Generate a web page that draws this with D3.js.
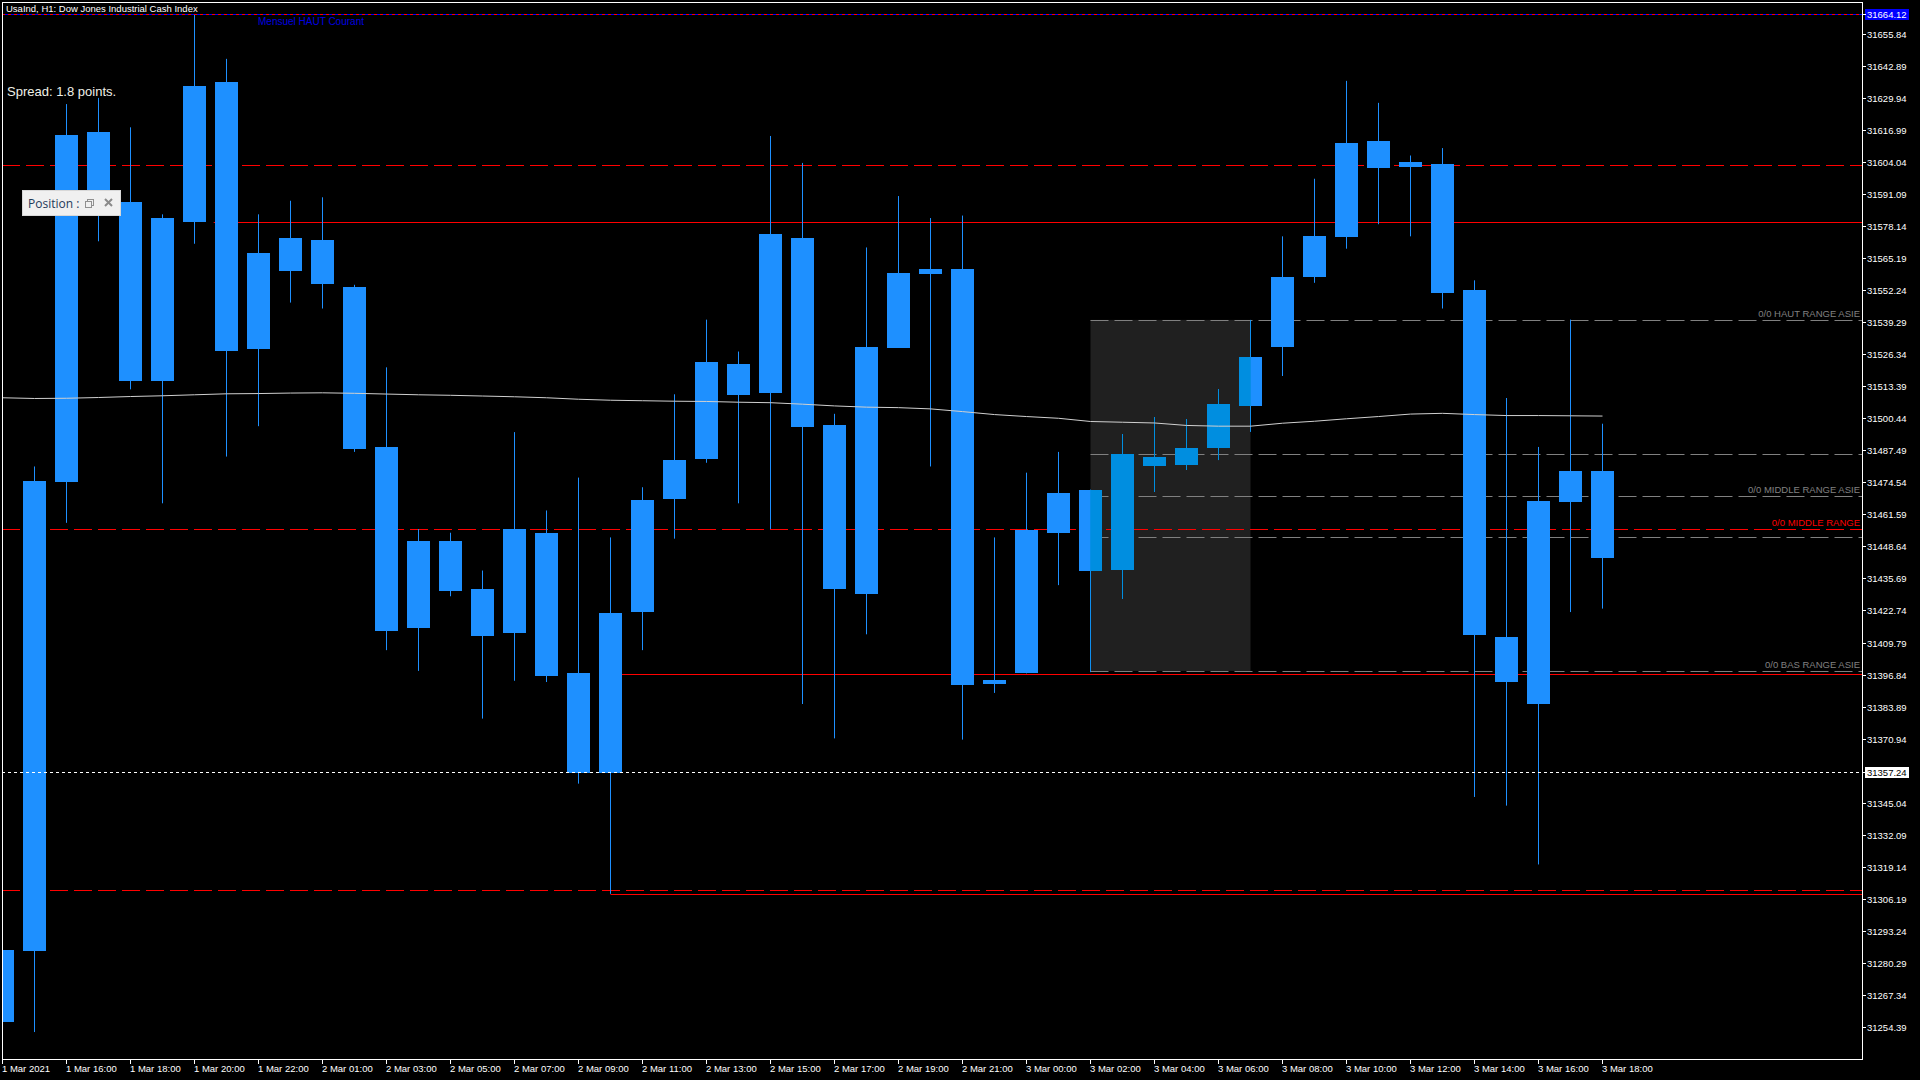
<!DOCTYPE html>
<html><head><meta charset="utf-8">
<script src="https://cdn.jsdelivr.net/npm/d3@7"></script>
<style>html,body{margin:0;padding:0;background:#000;overflow:hidden}</style>
</head><body>
<svg id="c" width="1920" height="1080"></svg>
<script>
// ---------- DATA ----------
const xLabels = ["1 Mar 2021","1 Mar 16:00","1 Mar 18:00","1 Mar 20:00","1 Mar 22:00","2 Mar 01:00","2 Mar 03:00","2 Mar 05:00","2 Mar 07:00","2 Mar 09:00","2 Mar 11:00","2 Mar 13:00","2 Mar 15:00","2 Mar 17:00","2 Mar 19:00","2 Mar 21:00","3 Mar 00:00","3 Mar 02:00","3 Mar 04:00","3 Mar 06:00","3 Mar 08:00","3 Mar 10:00","3 Mar 12:00","3 Mar 14:00","3 Mar 16:00","3 Mar 18:00"];
const xLabelBars = [0,2,4,6,8,10,12,14,16,18,20,22,24,26,28,30,32,34,36,38,40,42,44,46,48,50];
const yTickLabels = ["31655.84","31642.89","31629.94","31616.99","31604.04","31591.09","31578.14","31565.19","31552.24","31539.29","31526.34","31513.39","31500.44","31487.49","31474.54","31461.59","31448.64","31435.69","31422.74","31409.79","31396.84","31383.89","31370.94","31345.04","31332.09","31319.14","31306.19","31293.24","31280.29","31267.34","31254.39"];

const opens  = [31256.1,31284.9,31475.0,31616.2,31588.0,31515.7,31580.0,31636.5,31528.5,31560.2,31572.6,31553.8,31488.9,31415.6,31450.8,31431.5,31413.6,31454.2,31397.3,31356.7,31422.1,31467.6,31484.0,31522.6,31510.7,31573.6,31497.8,31429.5,31529.0,31558.7,31560.7,31393.3,31397.3,31453.8,31471.6,31438.9,31485.0,31481.6,31488.5,31505.5,31529.5,31557.7,31573.6,31612.7,31602.3,31603.3,31552.3,31412.1,31384.9,31466.6,31479.0];
const highs  = [31285.3,31481.0,31627.6,31630.1,31618.2,31583.0,31663.8,31645.9,31583.0,31588.5,31589.9,31554.5,31521.1,31455.7,31454.2,31438.9,31494.9,31463.2,31476.5,31452.3,31472.6,31510.2,31540.4,31527.5,31614.7,31603.8,31502.3,31569.6,31590.4,31581.5,31582.5,31452.3,31478.5,31486.9,31471.6,31494.1,31501.0,31500.2,31512.3,31540.3,31574.1,31597.4,31637.0,31628.1,31606.8,31609.8,31556.3,31508.7,31488.9,31540.4,31498.3];
const lows   = [31255.0,31252.2,31458.2,31572.1,31512.2,31466.1,31571.1,31485.0,31497.3,31547.3,31544.9,31486.9,31406.7,31398.3,31428.5,31379.0,31394.3,31393.8,31352.7,31308.1,31406.7,31451.8,31482.5,31466.1,31455.7,31384.9,31371.0,31413.1,31529.0,31481.0,31370.5,31389.4,31397.3,31433.0,31397.8,31427.5,31470.7,31479.6,31483.6,31495.0,31517.6,31555.3,31569.1,31579.0,31574.1,31544.9,31347.3,31343.8,31320.0,31422.1,31423.5];
const closes = [31285.3,31475.0,31615.2,31592.9,31515.7,31581.5,31635.0,31527.5,31567.2,31573.6,31554.8,31488.4,31414.6,31450.8,31430.5,31412.6,31455.7,31396.3,31356.7,31421.6,31467.6,31483.5,31523.1,31510.2,31575.1,31497.3,31431.5,31529.5,31559.2,31560.7,31392.3,31394.8,31455.2,31470.1,31438.9,31485.9,31481.5,31488.5,31506.3,31525.3,31557.7,31574.1,31611.7,31601.8,31604.3,31551.3,31412.6,31393.8,31467.1,31479.0,31443.8];
// moving average (bar -1 .. 50)
const maBars   = [-1,0,1,2,3,4,5,6,7,8,9,10,11,12,13,14,15,16,17,18,19,20,21,22,23,24,25,26,27,28,29,30,31,32,33,34,35,36,37,38,39,40,41,42,43,44,45,46,47,48,49,50];
const maValues = [31509.0,31508.8,31508.5,31508.6,31508.9,31509.3,31509.6,31510.0,31510.4,31510.5,31510.7,31510.8,31510.6,31510.3,31510.0,31509.8,31509.5,31509.2,31508.8,31508.2,31507.8,31507.6,31507.4,31507.3,31507.0,31506.8,31506.2,31505.5,31505.0,31504.8,31504.3,31503.2,31502.0,31501.2,31500.5,31499.2,31498.9,31498.6,31497.6,31497.3,31497.3,31498.5,31499.3,31500.3,31501.2,31502.2,31502.5,31502.0,31501.6,31501.6,31501.5,31501.4];

const monthlyHigh = 31664.12;
const bidPrice = 31357.24;
const redDashedLevels = [31602.8, 31455.6, 31309.5];
const redSolidLevels = [31579.9, 31396.9, 31308.1];
const redSolidStartBars = [6.6, 18.7, 19];
const asiaHigh = 31540.3, asiaLow = 31398.3;
const asiaStartBar = 34, asiaEndBar = 39;
const grayDashedLevels = [31540.3, 31485.9, 31468.9, 31452.4, 31398.3];
const rangeLabels = [
  {text:"0/0 HAUT RANGE ASIE", level:31540.3, color:"#808080"},
  {text:"0/0 MIDDLE RANGE ASIE", level:31468.9, color:"#808080"},
  {text:"0/0 MIDDLE RANGE", level:31455.6, color:"#ff0000"},
  {text:"0/0 BAS RANGE ASIE", level:31398.3, color:"#808080"}
];

// ---------- LAYOUT ----------
const L = 2, T = 2, R = 1862, B = 1059;
const BLUE = "#1E90FF", BLUE_IN = "#008EE0";
const FONT = "'Liberation Sans', Arial, sans-serif";

const svg = d3.select("#c");
svg.append("rect").attr("width",1920).attr("height",1080).attr("fill","#000");

const x = d3.scaleLinear().domain([0,50]).range([2.5,1602.5]);
const y = d3.scaleLinear().domain([31241.3,31668.9]).range([B,T]);
const yc = v => Math.round(y(v)) + 0.5;

const defs = svg.append("defs");
defs.append("clipPath").attr("id","plot").append("rect").attr("x",L+1).attr("y",T+1).attr("width",R-L-1).attr("height",B-T-1);
defs.append("clipPath").attr("id","asia").append("rect")
  .attr("x",x(asiaStartBar)).attr("y",y(asiaHigh)).attr("width",x(asiaEndBar)-x(asiaStartBar)).attr("height",y(asiaLow)-y(asiaHigh));

const g = svg.append("g").attr("clip-path","url(#plot)");

// Asian box
g.append("rect").attr("x",x(asiaStartBar)).attr("y",y(asiaHigh))
  .attr("width",x(asiaEndBar)-x(asiaStartBar)).attr("height",y(asiaLow)-y(asiaHigh)).attr("fill","#202020");

// red dashed full-width levels
g.selectAll(".rd").data(redDashedLevels).enter().append("line")
  .attr("x1",L).attr("x2",R).attr("y1",d=>yc(d)).attr("y2",d=>yc(d))
  .attr("stroke","#ff0000").attr("stroke-width",1).attr("stroke-dasharray","18,6");
// red solid levels
g.selectAll(".rs").data(redSolidLevels).enter().append("line")
  .attr("x1",(d,i)=>x(redSolidStartBars[i])).attr("x2",R).attr("y1",d=>yc(d)).attr("y2",d=>yc(d))
  .attr("stroke","#ff0000").attr("stroke-width",1);
// gray dashed asian levels
g.selectAll(".gd").data(grayDashedLevels).enter().append("line")
  .attr("x1",x(asiaStartBar)).attr("x2",R).attr("y1",d=>yc(d)).attr("y2",d=>yc(d))
  .attr("stroke","#808080").attr("stroke-width",1).attr("stroke-dasharray","18,6");

// candles
function drawCandles(sel, color){
  const idx = d3.range(opens.length);
  sel.selectAll(".w").data(idx).enter().append("line")
    .attr("x1",i=>x(i)).attr("x2",i=>x(i))
    .attr("y1",i=>y(highs[i])).attr("y2",i=>y(lows[i]))
    .attr("stroke",color).attr("stroke-width",1);
  sel.selectAll(".b").data(idx).enter().append("rect")
    .attr("x",i=>x(i)-11.5).attr("width",23)
    .attr("y",i=>Math.round(y(Math.max(opens[i],closes[i]))))
    .attr("height",i=>Math.max(1,Math.round(Math.abs(y(opens[i])-y(closes[i])))))
    .attr("fill",color);
}
drawCandles(g.append("g"), BLUE);
drawCandles(g.append("g").attr("clip-path","url(#asia)"), BLUE_IN);

// moving average
g.append("path").datum(d3.range(maBars.length))
  .attr("d", d3.line().x(i=>x(maBars[i])).y(i=>y(maValues[i])))
  .attr("fill","none").attr("stroke","#d0d0d0").attr("stroke-width",1);

// monthly high (red/blue dotted)
g.append("line").attr("x1",L).attr("x2",R).attr("y1",yc(monthlyHigh)).attr("y2",yc(monthlyHigh))
  .attr("stroke","#ff0000").attr("stroke-dasharray","3,3");
g.append("line").attr("x1",L+3).attr("x2",R).attr("y1",yc(monthlyHigh)).attr("y2",yc(monthlyHigh))
  .attr("stroke","#0000ff").attr("stroke-dasharray","3,3");
// bid line
g.append("line").attr("x1",L).attr("x2",R).attr("y1",yc(bidPrice)).attr("y2",yc(bidPrice))
  .attr("stroke","#ffffff").attr("stroke-dasharray","3,3");

// range labels
g.selectAll(".rl").data(rangeLabels).enter().append("text")
  .attr("x",R-2).attr("y",d=>yc(d.level)-3.5).attr("text-anchor","end")
  .attr("fill",d=>d.color).attr("font-family",FONT).attr("font-size","9.5px").text(d=>d.text);

// frame
const frame = svg.append("g").attr("stroke","#ffffff").attr("stroke-width",1).attr("shape-rendering","crispEdges");
frame.append("line").attr("x1",L+0.5).attr("x2",L+0.5).attr("y1",T).attr("y2",B+1);
frame.append("line").attr("x1",R+0.5).attr("x2",R+0.5).attr("y1",T).attr("y2",B+1);
frame.append("line").attr("x1",L).attr("x2",R+1).attr("y1",T+0.5).attr("y2",T+0.5);
frame.append("line").attr("x1",L).attr("x2",R+1).attr("y1",B+0.5).attr("y2",B+0.5);

// y axis ticks
const yTickVals = yTickLabels.map(Number);
const ya = svg.append("g").attr("transform",`translate(${R},0)`);
ya.selectAll("line").data(yTickVals).enter().append("line")
  .attr("x1",0).attr("x2",4).attr("y1",d=>yc(d)).attr("y2",d=>yc(d)).attr("stroke","#fff");
ya.selectAll("text").data(yTickLabels).enter().append("text")
  .attr("x",5).attr("y",d=>Math.round(y(+d))+4).attr("fill","#fff")
  .attr("font-family",FONT).attr("font-size","9.5px").text(d=>d);
// highlighted price labels
function priceTag(v, bg, fg){
  const cy = Math.round(y(v));
  ya.append("rect").attr("x",3).attr("y",cy-5).attr("width",44).attr("height",11).attr("fill",bg);
  ya.append("line").attr("x1",0).attr("x2",4).attr("y1",cy+0.5).attr("y2",cy+0.5).attr("stroke","#fff");
  ya.append("text").attr("x",5).attr("y",cy+4).attr("fill",fg)
    .attr("font-family",FONT).attr("font-size","9.5px").text(v.toFixed(2));
}
priceTag(monthlyHigh, "#0000ff", "#ffffff");
priceTag(bidPrice, "#ffffff", "#000000");

// x axis ticks
const xa = svg.append("g").attr("transform",`translate(0,${B})`);
xa.selectAll("line").data(xLabelBars).enter().append("line")
  .attr("x1",d=>Math.floor(x(d))+0.5).attr("x2",d=>Math.floor(x(d))+0.5).attr("y1",1).attr("y2",5).attr("stroke","#fff");
xa.selectAll("text").data(xLabels).enter().append("text")
  .attr("x",(d,i)=>Math.floor(x(xLabelBars[i]))).attr("y",13).attr("fill","#fff")
  .attr("font-family",FONT).attr("font-size","9.5px").text(d=>d);

// title & texts
svg.append("text").attr("x",6).attr("y",12).attr("fill","#fff").attr("font-family",FONT).attr("font-size","9.5px")
  .text("UsaInd, H1:  Dow Jones Industrial Cash Index");
svg.append("text").attr("x",258).attr("y",25).attr("fill","#0000e0").attr("font-family",FONT).attr("font-size","10px")
  .text("Mensuel HAUT Courant");
svg.append("text").attr("x",7).attr("y",96).attr("fill","#f0f0e8").attr("font-family",FONT).attr("font-size","13px")
  .text("Spread: 1.8 points.");

// Position panel
const pg = svg.append("g");
pg.append("rect").attr("x",22.5).attr("y",190.5).attr("width",98).attr("height",25).attr("fill","#f0f0f0").attr("stroke","#d8d8d8");
pg.append("text").attr("x",28).attr("y",208).attr("fill","#1f3a5a").attr("font-family","'Open Sans', sans-serif").attr("font-size","12px").text("Position :");
pg.append("rect").attr("x",87.5).attr("y",199.5).attr("width",6).attr("height",6).attr("fill","none").attr("stroke","#909090");
pg.append("rect").attr("x",85.5).attr("y",201.5).attr("width",6).attr("height",6).attr("fill","#f0f0f0").attr("stroke","#909090");
pg.append("path").attr("d","M105,199 L112,206 M112,199 L105,206").attr("stroke","#8a8a8a").attr("stroke-width",2);
</script>
</body></html>
